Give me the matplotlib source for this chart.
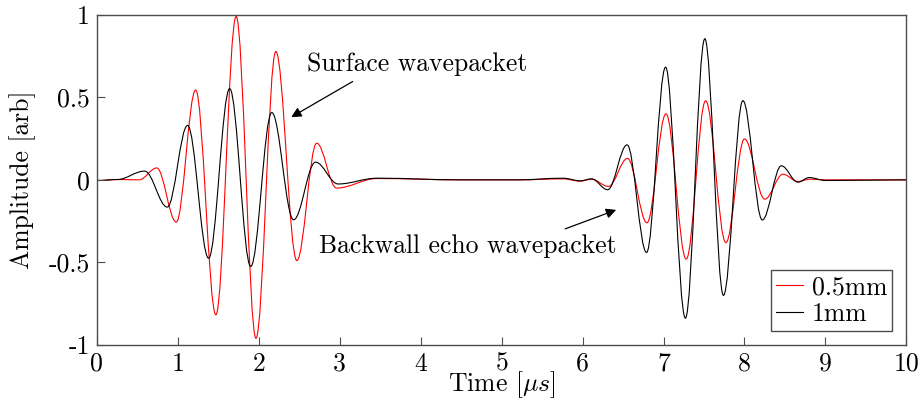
#!/usr/bin/env python3
"""Ultrasonic A-scan: surface and backwall echo wavepackets for two thicknesses."""

import matplotlib

matplotlib.use("Agg")
import matplotlib.pyplot as plt
from matplotlib.lines import Line2D
from matplotlib.patches import PathPatch
from matplotlib.path import Path

# extrema (time in us, amplitude) of each trace
red_t = [0.0, 0.30, 0.52, 0.74, 0.98, 1.22, 1.47, 1.72, 1.965, 2.21, 2.47, 2.715,
         2.96, 3.46, 4.5, 5.2, 5.76, 5.97, 6.11, 6.32, 6.555, 6.795, 7.03, 7.28,
         7.52, 7.77, 8.0, 8.25, 8.475, 8.66, 8.81, 9.0, 10.0]
red_a = [-0.004, 0.002, 0.0, 0.072, -0.256, 0.544, -0.818, 0.99, -0.96, 0.778, -0.489, 0.222,
         -0.05, 0.008, 0.0, 0.0, 0.006, -0.008, 0.004, -0.04, 0.13, -0.26, 0.40, -0.48,
         0.479, -0.38, 0.248, -0.117, 0.034, -0.01, 0.004, 0.0, 0.0]

black_t = [0.0, 0.25, 0.59, 0.87, 1.12, 1.38, 1.64, 1.90, 2.16, 2.43, 2.70, 2.98,
           3.46, 4.5, 5.2, 5.76, 5.97, 6.11, 6.31, 6.55, 6.79, 7.025, 7.27, 7.51,
           7.74, 7.98, 8.22, 8.455, 8.66, 8.80, 9.0, 10.0]
black_a = [-0.004, 0.002, 0.053, -0.165, 0.33, -0.475, 0.553, -0.525, 0.408, -0.242, 0.107, -0.025,
           0.01, 0.0, 0.0, 0.01, -0.006, 0.006, -0.06, 0.212, -0.44, 0.683, -0.838, 0.855,
           -0.70, 0.48, -0.243, 0.085, -0.014, 0.014, -0.004, 0.0]

labels = ["0.5mm", "1mm"]
colors = ["red", "black"]

x_ticks = list(range(0, 11))
y_ticks = [-1, -0.5, 0, 0.5, 1]
y_tick_labels = ["-1", "-0.5", "0", "0.5", "1"]


def wave_path(ts, amps, k=0.363):
    """Smooth path through the extrema, flat tangent at each one."""
    verts = [(ts[0], amps[0])]
    codes = [Path.MOVETO]
    for t0, a0, t1, a1 in zip(ts[:-1], amps[:-1], ts[1:], amps[1:]):
        dt = t1 - t0
        verts += [(t0 + k * dt, a0), (t1 - k * dt, a1), (t1, a1)]
        codes += [Path.CURVE4] * 3
    return Path(verts, codes)


plt.rcParams.update({
    "font.family": "cmr10",
    "mathtext.fontset": "cm",
    "axes.unicode_minus": False,
    "font.size": 18.5,
})

fig = plt.figure(figsize=(9.23, 4.01), dpi=100)
ax = fig.add_axes([0.105, 0.14, 0.877, 0.823])

for ts, amps, c in [(red_t, red_a, colors[0]), (black_t, black_a, colors[1])]:
    ax.add_patch(PathPatch(wave_path(ts, amps), facecolor="none", edgecolor=c, lw=0.8))

ax.set_xlim(0, 10)
ax.set_ylim(-1, 1)
ax.set_xticks(x_ticks)
ax.set_xticklabels([str(v) for v in x_ticks])
ax.set_yticks(y_ticks)
ax.set_yticklabels(y_tick_labels)
ax.tick_params(direction="in", length=6, width=0.8, color="0.3", pad=5)
for s in ax.spines.values():
    s.set_color("0.3")
    s.set_linewidth(1.0)

ax.set_xlabel(r"Time [$\mu s$]", va="baseline")
ax.xaxis.set_label_coords(0.5, -0.14)
ax.set_ylabel("Amplitude [arb]")
ax.yaxis.set_label_coords(-0.075, 0.5)

arrow = dict(arrowstyle="-|>", color="black", lw=0.9, shrinkA=0, shrinkB=0,
             mutation_scale=15)
ax.text(3.955, 0.70, "Surface wavepacket", ha="center", va="center")
ax.annotate("", xy=(2.40, 0.38), xytext=(3.16, 0.596), arrowprops=arrow)
ax.text(4.586, -0.40, "Backwall echo wavepacket", ha="center", va="center")
ax.annotate("", xy=(6.415, -0.182), xytext=(5.785, -0.297), arrowprops=arrow)

handles = [Line2D([], [], color=c, lw=0.8) for c in colors]
leg = ax.legend(handles, labels, loc="lower right", fancybox=False, framealpha=1,
                edgecolor="0.3", handlelength=1.05, handletextpad=0.35,
                labelspacing=0.1, borderpad=0.2, borderaxespad=0.55)
leg.get_frame().set_linewidth(1.0)

fig.savefig("out.png", dpi=100)
